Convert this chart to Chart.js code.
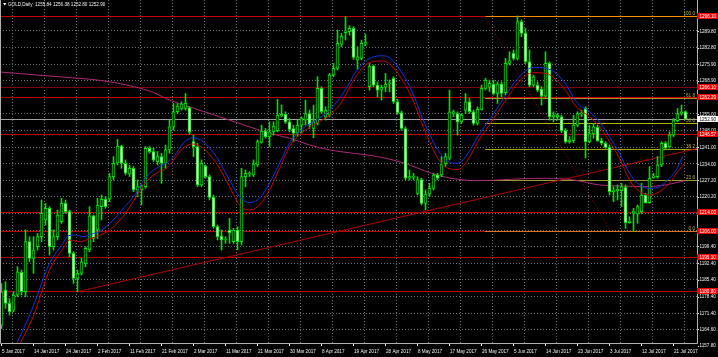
<!DOCTYPE html>
<html>
<head>
<meta charset="utf-8">
<script src="https://cdn.jsdelivr.net/npm/chart.js@4.4.1/dist/chart.umd.min.js"></script>
<style>
    html, body { margin: 0; padding: 0; background: #000; }
    canvas { display: block; }
</style>
</head>
<body>
<canvas id="goldChart" width="718" height="357"></canvas>
<script>
// GOLD daily bars
const opens = [
    1166.4, 1181.1, 1175.5, 1172.7, 1179.0, 1188.5, 1180.4, 1201.4,
    1194.4, 1199.3, 1203.5, 1210.5, 1215.4, 1199.3, 1203.5, 1209.8,
    1217.5, 1214.0, 1196.5, 1186.0, 1188.1, 1192.3, 1197.9, 1212.2,
    1206.3, 1216.1, 1219.2, 1219.2, 1228.7, 1234.3, 1241.5, 1234.3,
    1229.8, 1232.2, 1223.1, 1223.1, 1224.5, 1240.6, 1239.2, 1235.0,
    1237.1, 1234.3, 1239.9, 1249.6, 1255.9, 1257.1, 1257.3, 1257.6,
    1243.4, 1241.3, 1225.2, 1233.1, 1228.7, 1220.0, 1207.7, 1203.8,
    1202.1, 1206.3, 1201.4, 1206.3, 1201.4, 1228.7, 1229.7, 1229.4,
    1233.6, 1243.1, 1247.8, 1245.5, 1247.5, 1248.0, 1254.1, 1254.8,
    1251.7, 1248.9, 1246.9, 1250.3, 1252.4, 1255.2, 1248.9, 1251.0,
    1265.7, 1253.8, 1254.5, 1271.3, 1274.1, 1284.3, 1289.1, 1289.5,
    1290.9, 1277.6, 1278.3, 1284.3, 1266.4, 1275.1, 1267.1, 1265.0,
    1266.2, 1267.5, 1269.9, 1260.1, 1255.5, 1248.9, 1228.0, 1228.4,
    1221.7, 1227.5, 1217.5, 1221.4, 1223.8, 1229.4, 1229.4, 1234.0,
    1236.4, 1255.2, 1255.2, 1251.7, 1256.6, 1260.1, 1255.9, 1251.0,
    1256.9, 1265.7, 1266.2, 1267.5, 1263.6, 1267.5, 1263.9, 1276.2,
    1280.4, 1278.3, 1293.7, 1288.8, 1276.9, 1267.1, 1267.1, 1265.3,
    1262.5, 1276.2, 1253.8, 1253.8, 1253.8, 1248.0, 1243.4, 1243.8,
    1250.3, 1255.0, 1257.3, 1243.4, 1246.6, 1249.4, 1243.8, 1242.7,
    1241.0, 1222.4, 1222.8, 1222.8, 1224.2, 1209.4, 1213.3, 1213.0,
    1214.0, 1221.0, 1217.8, 1228.4, 1228.7, 1233.6, 1242.7, 1241.3,
    1246.1, 1252.2, 1255.0, 1255.84
];
const highs = [
    1183.8, 1184.6, 1177.6, 1180.4, 1190.9, 1189.5, 1206.3, 1203.5,
    1203.5, 1204.9, 1218.9, 1217.5, 1216.1, 1206.3, 1214.7, 1219.6,
    1218.9, 1214.7, 1197.2, 1189.5, 1194.4, 1199.3, 1216.1, 1212.6,
    1219.6, 1221.0, 1220.3, 1230.1, 1237.1, 1244.3, 1241.9, 1235.7,
    1233.6, 1232.9, 1227.3, 1225.2, 1241.3, 1241.3, 1240.6, 1239.2,
    1238.5, 1241.9, 1252.4, 1259.4, 1259.4, 1260.1, 1263.6, 1258.0,
    1246.1, 1242.7, 1235.7, 1233.6, 1229.4, 1221.0, 1208.4, 1206.3,
    1203.5, 1211.2, 1207.0, 1207.7, 1232.2, 1231.5, 1230.8, 1235.7,
    1244.1, 1250.3, 1248.9, 1251.7, 1251.7, 1261.1, 1258.7, 1255.9,
    1253.1, 1250.3, 1252.4, 1253.8, 1260.8, 1256.6, 1258.7, 1270.6,
    1266.4, 1258.0, 1272.0, 1276.2, 1290.2, 1288.8, 1295.8, 1292.0,
    1291.6, 1283.2, 1286.0, 1288.5, 1276.2, 1275.5, 1268.5, 1267.1,
    1272.0, 1269.2, 1270.6, 1261.1, 1256.2, 1249.6, 1231.5, 1230.1,
    1228.7, 1228.0, 1223.1, 1225.9, 1230.1, 1230.1, 1237.1, 1238.5,
    1265.0, 1256.6, 1255.9, 1255.2, 1263.6, 1261.5, 1256.6, 1258.0,
    1267.1, 1269.9, 1269.2, 1269.2, 1268.5, 1268.5, 1278.3, 1281.1,
    1281.8, 1296.1, 1294.4, 1290.9, 1281.8, 1271.3, 1268.5, 1266.4,
    1281.1, 1276.9, 1255.9, 1255.2, 1254.5, 1248.9, 1245.5, 1254.5,
    1255.9, 1256.6, 1258.0, 1250.3, 1251.0, 1250.3, 1244.8, 1243.4,
    1242.0, 1224.5, 1225.2, 1225.9, 1225.2, 1211.9, 1215.4, 1216.8,
    1225.9, 1221.7, 1232.9, 1230.1, 1237.1, 1243.4, 1243.4, 1247.5,
    1253.1, 1257.3, 1258.7, 1256.38
];
const lows = [
    1165.0, 1173.4, 1170.6, 1172.0, 1178.3, 1179.0, 1178.3, 1193.0,
    1188.1, 1197.9, 1201.4, 1208.4, 1195.8, 1197.9, 1202.1, 1209.1,
    1213.3, 1195.1, 1183.9, 1180.4, 1187.4, 1190.9, 1197.2, 1201.4,
    1202.8, 1210.5, 1215.4, 1218.2, 1227.3, 1233.6, 1232.2, 1229.4,
    1228.7, 1222.4, 1220.3, 1216.8, 1223.8, 1238.5, 1235.0, 1233.6,
    1225.9, 1232.2, 1238.5, 1248.2, 1255.2, 1256.6, 1256.6, 1246.5,
    1237.1, 1224.5, 1224.5, 1228.0, 1218.9, 1207.0, 1202.1, 1197.9,
    1200.7, 1200.7, 1200.7, 1197.9, 1200.0, 1224.5, 1228.7, 1228.7,
    1232.9, 1242.7, 1244.8, 1241.3, 1246.1, 1247.5, 1253.8, 1251.0,
    1247.5, 1243.4, 1245.5, 1246.9, 1250.3, 1248.9, 1245.0, 1250.3,
    1255.2, 1252.4, 1253.8, 1270.6, 1273.4, 1283.2, 1286.0, 1288.0,
    1277.9, 1273.7, 1277.6, 1283.5, 1265.0, 1266.4, 1262.2, 1260.8,
    1264.3, 1264.3, 1259.4, 1254.8, 1248.2, 1227.3, 1227.3, 1227.3,
    1221.0, 1216.8, 1214.7, 1220.3, 1223.1, 1227.3, 1228.7, 1232.9,
    1235.7, 1253.8, 1246.1, 1251.0, 1255.2, 1255.2, 1250.3, 1250.3,
    1256.6, 1265.0, 1264.3, 1262.9, 1259.4, 1262.2, 1262.9, 1275.5,
    1277.6, 1277.6, 1287.4, 1276.2, 1266.4, 1266.4, 1264.3, 1258.7,
    1262.0, 1252.4, 1251.7, 1252.4, 1247.1, 1242.7, 1242.7, 1242.9,
    1249.6, 1253.8, 1236.5, 1242.9, 1244.8, 1243.4, 1242.0, 1240.6,
    1221.0, 1218.2, 1218.9, 1216.1, 1207.0, 1209.1, 1205.8, 1209.1,
    1213.3, 1217.5, 1217.5, 1228.0, 1228.0, 1232.9, 1239.9, 1240.6,
    1245.5, 1251.7, 1254.5, 1252.80
];
const closes = [
    1180.3, 1175.5, 1172.0, 1179.0, 1188.8, 1180.4, 1201.4, 1194.4,
    1197.9, 1203.5, 1213.3, 1215.4, 1199.3, 1203.5, 1212.6, 1217.5,
    1214.0, 1196.5, 1186.0, 1188.1, 1193.0, 1198.6, 1212.2, 1202.8,
    1216.8, 1219.2, 1216.1, 1228.7, 1234.3, 1241.5, 1234.3, 1230.1,
    1232.2, 1223.1, 1224.5, 1224.8, 1240.6, 1239.2, 1235.7, 1237.1,
    1234.3, 1239.9, 1249.6, 1255.9, 1258.3, 1259.2, 1259.4, 1247.5,
    1241.3, 1225.2, 1234.3, 1228.7, 1220.0, 1207.7, 1203.5, 1202.1,
    1202.4, 1205.2, 1206.3, 1201.4, 1228.7, 1230.1, 1230.1, 1234.0,
    1243.4, 1247.8, 1245.5, 1247.5, 1249.9, 1254.5, 1254.8, 1251.7,
    1248.5, 1246.9, 1250.3, 1253.1, 1255.2, 1250.3, 1251.7, 1265.7,
    1255.9, 1256.6, 1271.3, 1274.1, 1284.6, 1287.7, 1289.9, 1290.9,
    1278.7, 1279.0, 1284.6, 1284.9, 1275.1, 1267.1, 1265.0, 1266.2,
    1267.5, 1268.0, 1260.1, 1255.5, 1248.9, 1228.0, 1228.7, 1228.9,
    1227.5, 1217.5, 1221.4, 1223.8, 1229.4, 1228.0, 1234.0, 1237.1,
    1255.9, 1255.9, 1251.7, 1254.5, 1260.1, 1255.9, 1251.0, 1256.9,
    1265.7, 1269.2, 1267.8, 1263.6, 1267.5, 1263.6, 1276.2, 1277.3,
    1278.3, 1293.7, 1288.8, 1276.9, 1267.1, 1270.6, 1265.0, 1262.5,
    1276.2, 1253.8, 1254.5, 1254.5, 1248.0, 1243.4, 1244.1, 1250.3,
    1255.2, 1255.5, 1243.4, 1246.8, 1249.6, 1243.8, 1242.7, 1241.0,
    1222.4, 1223.1, 1223.4, 1224.5, 1209.4, 1210.1, 1214.0, 1216.1,
    1221.0, 1217.8, 1228.0, 1229.0, 1233.6, 1242.7, 1240.6, 1246.1,
    1252.4, 1255.0, 1255.9, 1252.90
];

// moving averages (bar index, price)
const fastMaBars = [3.5, 7.9, 12, 15.4, 16.6, 18.7, 20.4, 22.5, 24.5, 27.9, 30.8, 32.9, 36.2, 38.7, 41.2, 43.3,
    45.4, 47.9, 50.4, 53.7, 57, 59.5, 62, 64.5, 67, 69.5, 72, 75.4, 78.7, 82, 84.5, 87, 88.3, 91.6, 95, 96.6,
    99.1, 102.5, 105.8, 109.1, 111.6, 114.1, 116.6, 119.1, 122.5, 125.8, 129.1, 132.9, 136.2, 138.7, 141.2,
    143.7, 147, 149.5, 152, 154.5, 157, 159.5, 162, 164.5, 167, 168.7, 170.3];
const fastMaVals = [1157.5, 1174.1, 1192.3, 1200.7, 1203.8, 1204.2, 1203.5, 1204.6, 1205.6, 1210.5, 1216.1, 1220.0,
    1228.7, 1232.2, 1234.3, 1237.5, 1242.7, 1245.0, 1243.4, 1237.1, 1227.3, 1220.3, 1217.8, 1219.6, 1225.9, 1234.3,
    1242.7, 1249.0, 1252.4, 1256.6, 1261.5, 1268.0, 1272.0, 1277.9, 1279.4, 1279.0, 1274.8, 1265.0, 1251.0, 1239.9,
    1235.0, 1234.3, 1238.5, 1245.5, 1253.8, 1262.2, 1269.9, 1274.5, 1274.1, 1272.0, 1267.1, 1260.1, 1255.9, 1251.7,
    1245.5, 1238.5, 1230.1, 1225.2, 1223.8, 1224.5, 1228.0, 1231.5, 1237.1];
const slowMaBars = [4.3, 7.9, 12, 15.4, 17, 19.6, 21.2, 23.7, 27, 30.4, 32.9, 36.2, 38.7, 41.2, 42.05, 45.4, 47.9,
    50.4, 53.7, 57, 59.5, 62, 64.5, 67, 69.5, 72, 75.4, 78.7, 82, 84.5, 85.8, 88.3, 91.6, 95, 96.6, 99.1, 102.5,
    105.8, 109.1, 111.6, 114.1, 116.6, 119.1, 122.5, 125.8, 129.1, 132.9, 136.2, 138.7, 141.2, 143.7, 147, 149.5,
    152, 154.5, 157, 159.5, 162, 164.5, 167, 168.7, 170.8];
const slowMaVals = [1157.5, 1169.9, 1189.5, 1198.6, 1202.1, 1201.4, 1202.1, 1203.5, 1206.3, 1211.9, 1218.2, 1226.6,
    1230.1, 1232.2, 1233.6, 1240.6, 1242.4, 1240.6, 1234.3, 1224.5, 1216.8, 1214.7, 1216.8, 1223.1, 1232.2, 1241.3,
    1247.5, 1251.0, 1254.5, 1258.7, 1262.3, 1269.9, 1276.2, 1277.2, 1276.5, 1272.0, 1262.2, 1248.2, 1236.4, 1232.2,
    1231.7, 1235.7, 1243.4, 1251.7, 1260.1, 1268.1, 1272.3, 1272.0, 1269.2, 1264.3, 1258.0, 1253.8, 1249.6, 1243.4,
    1236.4, 1227.3, 1222.4, 1221.0, 1222.4, 1225.9, 1230.1, 1234.3];
const longMaBars = [-0.4, 15, 25, 33, 38, 42, 47, 54.5, 62, 67, 72, 77, 82, 87, 94, 100.8, 107.5, 112.5, 119, 130,
    136, 143, 149.5, 154.5, 161, 166, 170.8];
const longMaVals = [1272.6, 1270.5, 1269.0, 1266.5, 1264.0, 1260.8, 1258.0, 1253.8, 1249.6, 1246.9, 1244.8, 1242.0,
    1239.9, 1238.7, 1237.1, 1234.3, 1230.1, 1228.0, 1227.0, 1227.8, 1228.0, 1227.3, 1225.2, 1224.8, 1224.5, 1225.2,
    1227.0];

// objects drawn on the chart
const levelPrices = [1296.10, 1266.10, 1262.29, 1246.57, 1214.00, 1206.00, 1195.10, 1180.80];
const fibRatios = [100.0, 61.8, 50.0, 38.2, 23.6, 0.0];
const fibHigh = 1296.10;
const fibLow = 1206.00;
const fibBars = [120.8, 152.2];
const trendBars = [19, 173.9];
const trendVals = [1180.4, 1240.5];

// axes
const dateLabels = ['5 Jan 2017', '14 Jan 2017', '24 Jan 2017', '2 Feb 2017', '11 Feb 2017', '21 Feb 2017',
    '2 Mar 2017', '11 Mar 2017', '21 Mar 2017', '30 Mar 2017', '8 Apr 2017', '19 Apr 2017', '28 Apr 2017',
    '8 May 2017', '17 May 2017', '26 May 2017', '5 Jun 2017', '14 Jun 2017', '23 Jun 2017', '3 Jul 2017',
    '12 Jul 2017', '21 Jul 2017'];
const priceTicks = [1289.8, 1282.8, 1275.9, 1268.9, 1262.0, 1255.0, 1248.0, 1241.0, 1234.0, 1227.2, 1220.2,
    1213.2, 1206.2, 1199.4, 1192.4, 1185.4, 1178.4, 1171.4, 1164.6, 1157.8];

const X_MIN = -0.375;
const X_MAX = 173.875;
const Y_MIN = 1158.9;
const Y_MAX = 1302.8;
const GREEN = '#00e000';
const GRID = '#6c727c';
const TEXT = '#f0f0f0';
const FONT = '4.6px "Liberation Sans"';
const levelColors = ['#c80000', '#820000', '#c00000', '#c00000', '#c00000', '#c00000', '#b80000', '#b80000'];
const fibColors = ['#ff8a00', '#a09028', '#b4b400', '#a4a400', '#9a9a28', '#e07020'];

const last = opens.length - 1;
const barIndex = opens.map((_, i) => i);

function toPoints(xs, ys) {
    return xs.map((x, k) => ({ x: x, y: ys[k] }));
}

function lineSet(points, color, extra) {
    return Object.assign({
        type: 'line',
        data: points,
        borderColor: color,
        borderWidth: 1,
        pointRadius: 0,
        fill: false,
        tension: 0
    }, extra || {});
}

function fibPrice(ratio) {
    return fibLow + (fibHigh - fibLow) * ratio / 100;
}

function buildDatasets() {
    return [
        lineSet(toPoints(fastMaBars, fastMaVals), '#1830e0', { cubicInterpolationMode: 'monotone' }),
        lineSet(toPoints(slowMaBars, slowMaVals), '#c80000', { cubicInterpolationMode: 'monotone' }),
        {
            type: 'bar',
            data: barIndex.map(i => ({ x: i, y: [opens[i], closes[i]] })),
            backgroundColor: c => closes[c.dataIndex] >= opens[c.dataIndex] ? '#000000' : '#ffffff',
            borderColor: GREEN,
            borderWidth: 1,
            borderSkipped: false,
            barThickness: 3,
            minBarLength: 1,
            grouped: false
        },
        {
            type: 'bar',
            data: barIndex.map(i => ({ x: i, y: [lows[i], highs[i]] })),
            backgroundColor: GREEN,
            borderWidth: 0,
            barThickness: 1,
            grouped: false
        },
        lineSet(toPoints(longMaBars, longMaVals), '#b02878', { cubicInterpolationMode: 'monotone' }),
        lineSet(toPoints(trendBars, trendVals), '#b00000'),
        lineSet(toPoints(fibBars, [fibHigh, fibLow]), '#a00000', { borderDash: [1, 2] })
    ];
}

// horizontal objects snapped to whole pixels, like the terminal draws them
function hLine(c, ys, xs, price, fromBar, color) {
    const y = Math.round(ys.getPixelForValue(price)) + 0.5;
    c.strokeStyle = color;
    c.beginPath();
    c.moveTo(Math.round(xs.getPixelForValue(fromBar)), y);
    c.lineTo(xs.right, y);
    c.stroke();
}

const mt4Levels = {
    id: 'mt4Levels',
    beforeDatasetsDraw(chart) {
        const c = chart.ctx;
        const xs = chart.scales.x;
        const ys = chart.scales.y;
        c.save();
        c.lineWidth = 1;
        levelPrices.forEach((p, k) => hLine(c, ys, xs, p, X_MIN, levelColors[k]));
        hLine(c, ys, xs, closes[last], X_MIN, '#a0a0a0');
        fibRatios.forEach((r, k) => hLine(c, ys, xs, fibPrice(r), fibBars[0], fibColors[k]));
        c.restore();
    }
};

function drawPriceBox(c, a, y, text, fill, color) {
    c.fillStyle = fill;
    c.fillRect(a.right, Math.round(y) - 3, 21, 6);
    c.fillStyle = color;
    c.fillText(text, a.right + 2.5, Math.round(y) + 0.3);
}

const mt4Decor = {
    id: 'mt4Decor',
    afterDraw(chart) {
        const c = chart.ctx;
        const a = chart.chartArea;
        const xs = chart.scales.x;
        const ys = chart.scales.y;
        c.save();

        c.strokeStyle = '#b0b0b0';
        c.lineWidth = 1;
        c.beginPath();
        c.moveTo(0.5, 0);
        c.lineTo(0.5, a.bottom + 0.5);
        c.lineTo(a.right + 0.5, a.bottom + 0.5);
        c.lineTo(a.right + 0.5, 0);
        c.stroke();

        c.font = FONT;
        c.textBaseline = 'middle';
        c.textAlign = 'left';

        // price scale
        c.fillStyle = TEXT;
        priceTicks.forEach(v => {
            const y = ys.getPixelForValue(v);
            c.fillRect(a.right + 1, Math.round(y), 1, 1);
            c.fillText(v.toFixed(2), a.right + 2.5, y + 0.3);
        });

        // time scale
        dateLabels.forEach((label, k) => {
            const x = xs.getPixelForValue(k * 8);
            c.fillStyle = TEXT;
            c.fillRect(Math.floor(x), a.bottom + 1, 1, 2);
            c.fillText(label, x + 0.5, a.bottom + 8.5);
        });

        // fibo level captions
        c.textAlign = 'right';
        c.textBaseline = 'bottom';
        fibRatios.forEach(r => {
            c.fillStyle = '#b4b438';
            c.fillText(r.toFixed(1), a.right - 2, Math.round(ys.getPixelForValue(fibPrice(r))) - 0.2);
        });

        // line price tags
        c.textAlign = 'left';
        c.textBaseline = 'middle';
        levelPrices.forEach(p => {
            drawPriceBox(c, a, ys.getPixelForValue(p), p.toFixed(2), '#f00000', '#ffffff');
        });
        drawPriceBox(c, a, ys.getPixelForValue(closes[last]), closes[last].toFixed(2), '#ffffff', '#000000');

        // header
        c.fillStyle = TEXT;
        c.beginPath();
        c.moveTo(3, 3);
        c.lineTo(6.5, 3);
        c.lineTo(4.75, 5.5);
        c.closePath();
        c.fill();
        const header = 'GOLD,Daily  ' + [opens[last], highs[last], lows[last], closes[last]].map(v => v.toFixed(2)).join(' ');
        c.fillText(header, 8, 4.5);

        c.restore();
    }
};

new Chart(document.getElementById('goldChart').getContext('2d'), {
    type: 'bar',
    data: { datasets: buildDatasets() },
    options: {
        responsive: false,
        animation: false,
        devicePixelRatio: 1,
        events: [],
        layout: { padding: { left: 0, top: 0, right: 21, bottom: 14 } },
        plugins: {
            legend: { display: false },
            tooltip: { enabled: false }
        },
        scales: {
            x: {
                type: 'linear',
                min: X_MIN,
                max: X_MAX,
                offset: false,
                afterBuildTicks: s => {
                    s.ticks = dateLabels.map((_, k) => ({ value: 2.8 + k * 8 }));
                },
                afterFit: s => { s.height = 0; },
                ticks: { display: false },
                grid: { color: GRID, drawTicks: false, offset: false },
                border: { display: false, dash: [1, 2] }
            },
            y: {
                position: 'right',
                min: Y_MIN,
                max: Y_MAX,
                afterBuildTicks: s => {
                    s.ticks = priceTicks.filter(v => v > Y_MIN && v < Y_MAX).map(v => ({ value: v }));
                },
                afterFit: s => { s.width = 0; },
                ticks: { display: false },
                grid: { color: GRID, drawTicks: false },
                border: { display: false, dash: [1, 2] }
            }
        }
    },
    plugins: [mt4Levels, mt4Decor]
});
</script>
</body>
</html>
